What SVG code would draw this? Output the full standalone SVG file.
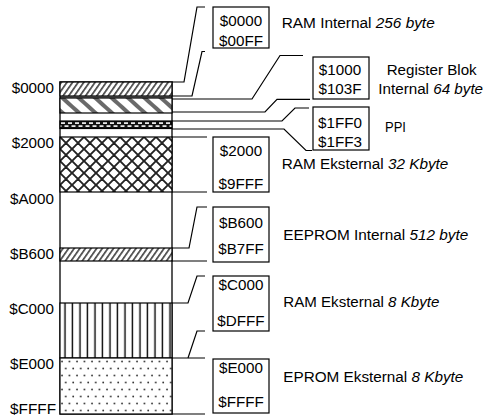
<svg xmlns="http://www.w3.org/2000/svg" width="485" height="418" viewBox="0 0 485 418">
<style>
text{font-family:"Liberation Sans",Arial,sans-serif;font-size:14px;fill:#000}
.it{font-style:italic}
.box{fill:#fff;stroke:#000;stroke-width:1.2}
.seg{stroke:#000;stroke-width:1.2}
.con{fill:none;stroke:#000;stroke-width:1.2}
.mid{text-anchor:middle}
.end{text-anchor:end}
</style>
<defs>
<pattern id="hatchF" patternUnits="userSpaceOnUse" width="4.6" height="4.6" patternTransform="rotate(35)">
<rect width="4.6" height="4.6" fill="#fff"/>
<rect width="1.7" height="4.6" fill="#4a4a4a"/>
</pattern>
<pattern id="hatchB" patternUnits="userSpaceOnUse" width="11" height="11" patternTransform="rotate(-48)">
<rect width="11" height="11" fill="#fff"/>
<rect width="4" height="11" fill="#6a6a6a"/>
</pattern>
<pattern id="check" patternUnits="userSpaceOnUse" x="60" y="121" width="7" height="7">
<rect width="7" height="7" fill="#111"/>
<rect x="1" y="1.3" width="4" height="1.6" fill="#fff"/>
<rect x="4.5" y="4.3" width="4" height="1.6" fill="#fff"/>
<rect x="-2.5" y="4.3" width="4" height="1.6" fill="#fff"/>
</pattern>
<pattern id="cross" patternUnits="userSpaceOnUse" x="60" y="137" width="12" height="12">
<rect width="12" height="12" fill="#fff"/>
<path d="M-2,-2L14,14M-6,6L6,18M6,-6L18,6M14,-2L-2,14M-6,6L6,-6M6,18L18,6" stroke="#222" stroke-width="1.9" fill="none"/>
</pattern>
<pattern id="vert" patternUnits="userSpaceOnUse" x="60" y="0" width="7.5" height="10">
<rect width="7.5" height="10" fill="#fff"/>
<rect x="4.3" width="1.4" height="10" fill="#000"/>
</pattern>
<pattern id="dots" patternUnits="userSpaceOnUse" x="60" y="358" width="7.5" height="14">
<rect width="7.5" height="14" fill="#fff"/>
<circle cx="2" cy="3.5" r="0.9" fill="#333"/>
<circle cx="5.75" cy="10.5" r="0.9" fill="#333"/>
</pattern>
</defs>

<rect x="60" y="82" width="112" height="332" fill="#fff" stroke="#000" stroke-width="1.3"/>

<g id="node-ram-internal">
<rect x="60" y="82" width="112" height="14" fill="url(#hatchF)" class="seg"/>
<text x="54" y="92.7" class="end" textLength="42.3" lengthAdjust="spacingAndGlyphs">$0000</text>
<rect x="213" y="7" width="56" height="41" class="box"/>
<text x="241" y="26" class="mid" textLength="42.3" lengthAdjust="spacingAndGlyphs">$0000</text>
<text x="241" y="46.3" class="mid" textLength="44" lengthAdjust="spacingAndGlyphs">$00FF</text>
<text x="281.7" y="28.3" textLength="153" lengthAdjust="spacingAndGlyphs">RAM Internal <tspan class="it">256 byte</tspan></text>
</g>

<g id="node-register">
<rect x="60" y="98" width="112" height="15" fill="url(#hatchB)" class="seg"/>
<line x1="60" y1="97" x2="172" y2="97" class="seg"/>
<rect x="313" y="57" width="56" height="42" class="box"/>
<text x="340" y="75" class="mid" textLength="42.3" lengthAdjust="spacingAndGlyphs">$1000</text>
<text x="340" y="94" class="mid" textLength="43.1" lengthAdjust="spacingAndGlyphs">$103F</text>
<text x="386.7" y="75" textLength="90" lengthAdjust="spacingAndGlyphs">Register Blok</text>
<text x="378.3" y="94" textLength="104.8" lengthAdjust="spacingAndGlyphs">Internal <tspan class="it">64 byte</tspan></text>
</g>

<g id="node-ppi">
<rect x="60" y="121" width="112" height="7.5" fill="url(#check)" class="seg"/>
<rect x="313" y="107" width="56" height="43" class="box"/>
<text x="340" y="128" class="mid" textLength="44" lengthAdjust="spacingAndGlyphs">$1FF0</text>
<text x="340" y="146.5" class="mid" textLength="44" lengthAdjust="spacingAndGlyphs">$1FF3</text>
<text x="385" y="131.7" textLength="21" lengthAdjust="spacingAndGlyphs">PPI</text>
</g>

<g id="node-ram-ext32">
<rect x="60" y="137" width="112" height="55" fill="url(#cross)" class="seg"/>
<text x="54" y="148" class="end" textLength="42.3" lengthAdjust="spacingAndGlyphs">$2000</text>
<text x="54" y="203.7" class="end" textLength="44" lengthAdjust="spacingAndGlyphs">$A000</text>
<rect x="213" y="137" width="56" height="55" class="box"/>
<text x="241" y="156.3" class="mid" textLength="42.3" lengthAdjust="spacingAndGlyphs">$2000</text>
<text x="241" y="189" class="mid" textLength="44.8" lengthAdjust="spacingAndGlyphs">$9FFF</text>
<text x="281.7" y="169" textLength="166.7" lengthAdjust="spacingAndGlyphs">RAM Eksternal <tspan class="it">32 Kbyte</tspan></text>
</g>

<g id="node-eeprom">
<rect x="60" y="248" width="112" height="13" fill="url(#hatchF)" class="seg"/>
<text x="54" y="258.7" class="end" textLength="44" lengthAdjust="spacingAndGlyphs">$B600</text>
<rect x="213" y="207" width="56" height="55" class="box"/>
<text x="241" y="227.7" class="mid" textLength="44" lengthAdjust="spacingAndGlyphs">$B600</text>
<text x="241" y="254.3" class="mid" textLength="45.6" lengthAdjust="spacingAndGlyphs">$B7FF</text>
<text x="283.3" y="240" textLength="185" lengthAdjust="spacingAndGlyphs">EEPROM Internal <tspan class="it">512 byte</tspan></text>
</g>

<g id="node-ram-ext8">
<rect x="60" y="303" width="112" height="55" fill="url(#vert)" class="seg"/>
<text x="54" y="314" class="end" textLength="44.8" lengthAdjust="spacingAndGlyphs">$C000</text>
<rect x="213" y="276" width="56" height="55" class="box"/>
<text x="241" y="290" class="mid" textLength="44.8" lengthAdjust="spacingAndGlyphs">$C000</text>
<text x="241" y="326" class="mid" textLength="47.3" lengthAdjust="spacingAndGlyphs">$DFFF</text>
<text x="283.3" y="306.7" textLength="156" lengthAdjust="spacingAndGlyphs">RAM Eksternal <tspan class="it">8 Kbyte</tspan></text>
</g>

<g id="node-eprom">
<rect x="60" y="358" width="112" height="56" fill="url(#dots)" class="seg"/>
<text x="54" y="368.7" class="end" textLength="44" lengthAdjust="spacingAndGlyphs">$E000</text>
<text x="56" y="413.5" class="end" textLength="46" lengthAdjust="spacingAndGlyphs">$FFFF</text>
<rect x="213" y="359" width="56" height="54" class="box"/>
<text x="241" y="373.3" class="mid" textLength="44" lengthAdjust="spacingAndGlyphs">$E000</text>
<text x="241" y="406.7" class="mid" textLength="45.6" lengthAdjust="spacingAndGlyphs">$FFFF</text>
<text x="283.3" y="381.7" textLength="180" lengthAdjust="spacingAndGlyphs">EPROM Eksternal <tspan class="it">8 Kbyte</tspan></text>
</g>

<g id="connectors">
<polyline class="con" points="172,82 184,82 197,7 205,7"/>
<polyline class="con" points="172,96 192,96 202,51.5 205,51.5"/>
<polyline class="con" points="172,99 252,99 280,55.5 303,55.5"/>
<polyline class="con" points="172,112 265,112 277,99.3 310,99.3"/>
<polyline class="con" points="172,121 282,121 295,108 309,108"/>
<polyline class="con" points="172,129 284,129 306,150.5 312,150.5"/>
<polyline class="con" points="172,137 207,137"/>
<polyline class="con" points="172,192 207,192"/>
<polyline class="con" points="172,248 189,248 197,207 207,207"/>
<polyline class="con" points="172,261 207,261"/>
<polyline class="con" points="172,303 188,303 197,276 205,276"/>
<polyline class="con" points="172,358 205,358"/>
<polyline class="con" points="188,358 197,331 205,331"/>
<polyline class="con" points="172,414 205,414"/>
</g>
</svg>
